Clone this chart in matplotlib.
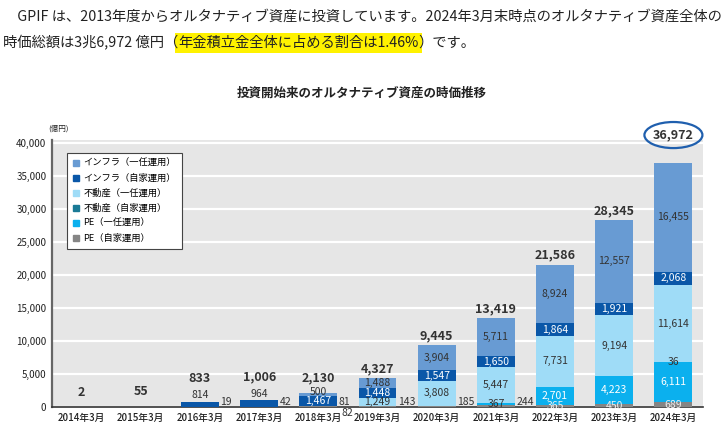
import matplotlib
matplotlib.use("Agg")
from matplotlib import pyplot as plt
from matplotlib.lines import Line2D
from matplotlib.patches import Ellipse
import numpy as np

plt.rcParams['font.family'] = ['Noto Sans CJK JP', 'DejaVu Sans']

years = ["2014年3月", "2015年3月", "2016年3月", "2017年3月", "2018年3月", "2019年3月",
         "2020年3月", "2021年3月", "2022年3月", "2023年3月", "2024年3月"]
totals = [2, 55, 833, 1006, 2130, 4327, 9445, 13419, 21586, 28345, 36972]

# stacked bottom -> top
pe_self = [0, 0, 19, 42, 81, 143, 185, 244, 365, 450, 689]
pe_disc = [0, 0, 0, 0, 0, 0, 0, 367, 2701, 4223, 6111]
re_self = [0, 0, 0, 0, 0, 0, 0, 0, 0, 0, 36]
re_disc = [0, 0, 0, 0, 82, 1249, 3808, 5447, 7731, 9194, 11614]
inf_self = [2, 55, 814, 964, 1467, 1448, 1547, 1650, 1864, 1921, 2068]
inf_disc = [0, 0, 0, 0, 500, 1488, 3904, 5711, 8924, 12557, 16455]

names = ["PE（自家運用）", "PE（一任運用）", "不動産（自家運用）", "不動産（一任運用）",
         "インフラ（自家運用）", "インフラ（一任運用）"]
series = [pe_self, pe_disc, re_self, re_disc, inf_self, inf_disc]
colors = ['#858585', '#0bb0ee', '#1a7a96', '#9fdcf7', '#0a57a8', '#689bd3']
txt_colors = ['#eeeeee', 'white', '#333333', '#333333', 'white', '#333333']

W, H = 722, 429
fig = plt.figure(figsize=(W / 100, H / 100), dpi=100)
ax = fig.add_axes([52 / W, 1 - 407 / H, (703 - 52) / W, (407 - 140) / H])
ax.set_facecolor('#e6e6e6')

x = np.arange(len(years))
bw = 0.64
bottom = np.zeros(len(years))
for k, (vals, c) in enumerate(zip(series, colors)):
    vals = np.array(vals, dtype=float)
    ax.bar(x, vals, bw, bottom=bottom, color=c, zorder=3)
    for i, v in enumerate(vals):
        if v <= 0:
            continue
        if totals[i] < 100:
            pass
        elif totals[i] < 1500 and k == 4:
            ax.annotate(f"{int(v):,}", (x[i], bottom[i] + v), xytext=(0, 1),
                        textcoords='offset points', ha='center', va='bottom',
                        fontsize=7.5, color='#333333', zorder=5)
        elif k == 0 and v < 300:
            ax.annotate(f"{int(v):,}", (x[i] + bw / 2, 0), xytext=(1, 0),
                        textcoords='offset points', ha='left', va='bottom',
                        fontsize=7.5, color='#333333', zorder=5)
        elif k == 3 and v < 100:
            ax.annotate(f"{int(v):,}", (x[i] + bw / 2, 0), xytext=(3, -1),
                        textcoords='offset points', ha='left', va='top',
                        fontsize=7.5, color='#333333', zorder=5, annotation_clip=False)
        else:
            tc = txt_colors[k]
            if k == 1 and v < 600:
                tc = '#333333'
            dy = 2 if (k == 5 and v < 1000) else 0
            ax.annotate(f"{int(v):,}", (x[i], bottom[i] + v / 2), xytext=(0, dy),
                        textcoords='offset points', ha='center', va='center',
                        fontsize=7.5, color=tc, zorder=5)
    bottom += vals

for i, t in enumerate(totals):
    if i == len(totals) - 1:
        continue
    if 100 < t < 1500:
        off = 12
    elif t < 2500:
        off = 6
    else:
        off = 2
    ax.annotate(f"{t:,}", (x[i], t), xytext=(0, off), textcoords='offset points',
                ha='center', va='bottom', fontsize=9, fontweight='bold', color='#333333', zorder=5)

# circled latest total
yc = 41200
ax.text(x[-1], yc, f"{totals[-1]:,}", ha='center', va='center', fontsize=9,
        fontweight='bold', color='#333333', clip_on=False, zorder=6)
ax.add_patch(Ellipse((x[-1], yc), 0.98, 3950, facecolor='none', edgecolor='#1f5fae',
                     lw=1.6, clip_on=False, zorder=6))

ax.set_xlim(-0.5, len(years) - 0.5)
ax.set_ylim(0, 40450)
ax.set_yticks(np.arange(0, 40001, 5000))
ax.set_yticklabels([f"{v:,}" for v in range(0, 40001, 5000)])
ax.set_xticks(x)
ax.set_xticklabels(years, fontweight='medium')
ax.tick_params(axis='both', length=0, labelsize=7, colors='#222222')
ax.tick_params(axis='x', pad=4)
ax.tick_params(axis='y', pad=4)
ax.grid(axis='y', color='white', lw=1.6, zorder=1)
ax.set_axisbelow(True)
for s in ['top', 'right']:
    ax.spines[s].set_visible(False)
ax.spines['left'].set_color('#666666')
ax.spines['left'].set_linewidth(1.6)
ax.spines['bottom'].set_color('#333333')
ax.spines['bottom'].set_linewidth(1.2)

handles = [Line2D([], [], marker='s', ls='none', color=c, markersize=5)
           for c in colors[::-1]]
leg = ax.legend(handles, names[::-1], loc='upper left', bbox_to_anchor=(0.023, 0.951),
                borderaxespad=0, fontsize=6.7, frameon=True, fancybox=False,
                handlelength=0.6, handletextpad=0.5, labelspacing=0.62,
                borderpad=0.65, framealpha=1)
leg.get_frame().set_edgecolor('#444444')
leg.get_frame().set_linewidth(0.8)
leg.set_zorder(7)

fig.text(48 / W, 1 - 129 / H, "(億円)", ha='left', va='center', fontsize=5.5,
         color='#222222')

fig.text(362 / W, 1 - 93 / H, "投資開始来のオルタナティブ資産の時価推移", ha='center',
         va='center', fontsize=9, fontweight='bold', color='#222222')

fs = 10.3
fig.text(3 / W, 1 - 17 / H,
         "\u3000GPIF は、2013年度からオルタナティブ資産に投資しています。2024年3月末時点のオルタナティブ資産全体の",
         ha='left', va='center', fontsize=fs, color='#222222')
r = fig.canvas.get_renderer()
y2 = 1 - 43 / H
t1 = fig.text(3 / W, y2, "時価総額は3兆6,972 億円（", ha='left', va='center', fontsize=fs,
              color='#222222', zorder=5)
b1 = t1.get_window_extent(r)
t2 = fig.text(b1.x1 / W, y2, "年金積立金全体に占める割合は1.46%", ha='left', va='center',
              fontsize=fs, color='#222222', zorder=4,
              bbox=dict(facecolor='#fff200', edgecolor='none', pad=2.5))
b2 = t2.get_window_extent(r)
fig.text(b2.x1 / W, y2, "）です。", ha='left', va='center', fontsize=fs, color='#222222',
         zorder=5)

fig.savefig("out.png", dpi=100)
